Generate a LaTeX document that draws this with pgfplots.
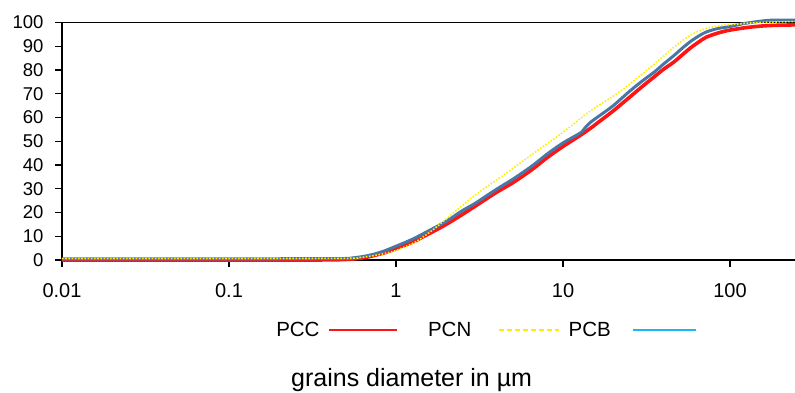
\documentclass[border=0pt]{standalone}
\usepackage{fontspec}
\setmainfont{Liberation Sans}
\usepackage{pgfplots}
\pgfplotsset{compat=1.18}
\definecolor{pccred}{RGB}{255,20,20}
\definecolor{pcbblue}{RGB}{72,118,165}
\definecolor{pcblegend}{RGB}{30,180,245}
\definecolor{pcnyellow}{RGB}{255,238,0}
\begin{document}
\begin{tikzpicture}
\begin{axis}[
  at={(0pt,0pt)}, anchor=south west,
  scale only axis, width=733pt, height=237.5pt,
  xmode=log, xmin=0.01, xmax=245,
  ymin=0, ymax=100,
  clip=false,
  axis lines=left,
  axis line style={-, line width=1.5pt, black},
  xtick={0.01,0.1,1,10,100},
  xticklabels={0.01,0.1,1,10,100},
  ytick={0,10,20,30,40,50,60,70,80,90,100},
  yticklabels={0,10,20,30,40,50,60,70,80,90,100},
  xminorticks=false, yminorticks=false,
  tick align=outside, major tick length=7pt,
  tick style={black, line width=1.3pt},
  xticklabel style={font=\fontsize{20}{22}\selectfont, yshift=-13pt},
  yticklabel style={font=\fontsize{18.5}{20}\selectfont, xshift=-8pt},
  xlabel={grains diameter in µm},
  xlabel style={at={(axis description cs:0.477,-0.505)}, anchor=center, font=\fontsize{25}{30}\selectfont},
  legend plot pos=right,
  legend columns=3,
  legend style={at={(axis description cs:0.578,-0.295)}, anchor=center, draw=none, fill=none,
    font=\fontsize{20.5}{24}\selectfont, column sep=0pt,
    /tikz/every odd column/.append style={column sep=6pt}},
]
\addplot[black, line width=1.5pt, forget plot] coordinates {(0.01,100) (245,100)};
\addlegendimage{legend image code/.code={\path (0pt,0pt) (97pt,0pt); \draw[pccred, line width=2.6pt] (0pt,0pt) -- (68pt,0pt);}}
\addlegendentry{PCC}
\addlegendimage{legend image code/.code={\path (0pt,0pt) (87pt,0pt); \draw[pcnyellow, line width=1.8pt, dash pattern=on 5pt off 3pt] (19pt,0pt) -- (79pt,0pt);}}
\addlegendentry{PCN}
\addlegendimage{legend image code/.code={\path (0pt,0pt) (77pt,0pt); \draw[pcblegend, line width=2pt] (14pt,0pt) -- (77pt,0pt);}}
\addlegendentry{PCB}
\addplot[pccred, line width=3.6pt, smooth, forget plot] coordinates {
(0.01,0) (0.1,0) (0.3,0) (0.45,0.1) (0.55,0.4) (0.65,1.0) (0.75,2.0) (0.85,3.0) (1,4.8) (1.25,7.5) (1.6,11.3) (2,15) (2.5,19.2) (3,22.8) (4,28.5) (5,32.5) (6.5,38) (8,43) (10,47.8) (12.7,52.5) (14.5,55.3) (16.5,58.3) (20,62.8) (25,68.5) (30,73.2) (35,77) (40,80.3) (46,83.3) (52,86.5) (58,89.3) (65,91.8) (72,93.8) (85,95.6) (100,96.8) (130,98) (170,98.7) (245,99)
};
\addplot[pcbblue, line width=3pt, smooth, forget plot] coordinates {
(0.01,0.5) (0.1,0.5) (0.45,0.6) (0.55,0.9) (0.65,1.6) (0.75,2.6) (0.85,3.8) (1,5.8) (1.25,8.7) (1.6,12.6) (2,16.3) (2.5,20.8) (3,24) (4,29.8) (5,34) (6.5,39.5) (8,44.5) (10,49.3) (12.7,53.5) (13.5,55.5) (14.5,57.8) (16.5,60.7) (20,65) (25,71) (30,75.5) (35,79) (40,82.5) (46,86) (52,89.3) (58,92) (65,94.3) (72,96) (85,97.5) (100,98.3) (120,99.5) (150,100.5) (180,101) (245,101)
};
\addplot[pcnyellow, line width=1.6pt, dash pattern=on 1.6pt off 1.6pt, smooth, forget plot] coordinates {
(0.01,0.6) (0.1,0.6) (0.5,0.7) (0.6,1.0) (0.7,1.6) (0.8,2.3) (0.9,3.1) (1,4) (1.3,7.5) (1.6,11.8) (2,17.3) (2.5,23) (3,27.5) (4,33.7) (5,38.5) (7,46) (10,53.8) (14.4,62.5) (20,69) (25,74) (30,78.5) (38,84.5) (46,89.5) (58,94.7) (72,97.5) (85,98.5) (100,99.1) (150,100) (245,100.4)
};
\end{axis}
\pgfresetboundingbox
\path[use as bounding box] (-62pt,-133pt) rectangle (733pt,260pt);
\end{tikzpicture}
\end{document}
